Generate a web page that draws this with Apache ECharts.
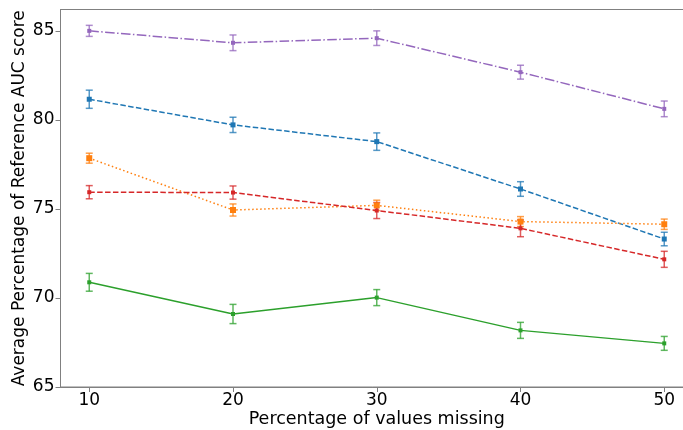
<!DOCTYPE html>
<html><head><meta charset="utf-8">
<script src="https://cdn.jsdelivr.net/npm/echarts@6/dist/echarts.min.js"></script>
<style>html,body{margin:0;padding:0;background:#fff}#c{width:683px;height:430px}</style>
</head><body><div id="c"></div>
<script>
const xs = [10, 20, 30, 40, 50];
const xTicks = [10, 20, 30, 40, 50];
const yTicks = [65, 70, 75, 80, 85];
const blueVals = [81.16, 79.72, 78.78, 76.12, 73.31];
const blueErr = [0.51, 0.43, 0.49, 0.41, 0.38];
const orangeVals = [77.85, 74.94, 75.20, 74.29, 74.14];
const orangeErr = [0.28, 0.34, 0.29, 0.28, 0.29];
const greenVals = [70.88, 69.10, 70.02, 68.18, 67.45];
const greenErr = [0.50, 0.54, 0.45, 0.45, 0.39];
const redVals = [75.94, 75.92, 74.91, 73.91, 72.17];
const redErr = [0.37, 0.37, 0.45, 0.47, 0.45];
const purpleVals = [85.00, 84.33, 84.59, 82.68, 80.62];
const purpleErr = [0.31, 0.44, 0.41, 0.39, 0.44];

const FONT = 'DejaVu Sans';
const specs = [
  {vals: blueVals, err: blueErr, color: '#1f77b4', dash: [5.5, 2.4], size: 5},
  {vals: orangeVals, err: orangeErr, color: '#ff7f0e', dash: [1.5, 2.5], size: 6},
  {vals: greenVals, err: greenErr, color: '#2ca02c', dash: 'solid', size: 4},
  {vals: redVals, err: redErr, color: '#d62728', dash: [5.5, 2.4], size: 4},
  {vals: purpleVals, err: purpleErr, color: '#9467bd', dash: [9.6, 2.4, 1.5, 2.4], size: 4}
];

const series = [];
specs.forEach(s => {
  series.push({
    type: 'custom',
    data: xs.map((x, i) => [x, s.vals[i], s.err[i]]),
    encode: {x: 0, y: 1},
    z: 2,
    silent: true,
    renderItem: function (params, api) {
      const x = api.value(0), y = api.value(1), e = api.value(2);
      const lo = api.coord([x, y - e]);
      const hi = api.coord([x, y + e]);
      const cw = 3.5;
      const st = {stroke: s.color, lineWidth: 1.5, opacity: 0.75};
      return {type: 'group', children: [
        {type: 'line', shape: {x1: lo[0], y1: lo[1], x2: hi[0], y2: hi[1]}, style: st},
        {type: 'line', shape: {x1: lo[0] - cw, y1: lo[1], x2: lo[0] + cw, y2: lo[1]}, style: st},
        {type: 'line', shape: {x1: hi[0] - cw, y1: hi[1], x2: hi[0] + cw, y2: hi[1]}, style: st}
      ]};
    }
  });
  series.push({
    type: 'line',
    data: xs.map((x, i) => [x, s.vals[i]]),
    z: 3,
    symbol: 'rect',
    symbolSize: s.size,
    showSymbol: true,
    itemStyle: {color: s.color},
    lineStyle: {color: s.color, width: 1.5, type: s.dash},
    animation: false
  });
});

const chart = echarts.init(document.getElementById('c'), null, {renderer: 'canvas'});
chart.setOption({
  animation: false,
  backgroundColor: '#ffffff',
  grid: {left: 60.5, top: 9.5, right: -10, bottom: 43, containLabel: false, outerBoundsMode: 'none',
         show: true, borderColor: '#808080', borderWidth: 1, backgroundColor: 'transparent'},
  xAxis: {
    type: 'value', min: 8, max: 52,
    name: 'Percentage of values missing', nameLocation: 'middle', nameGap: 23, nameMoveOverlap: false,
    nameTextStyle: {fontFamily: FONT, fontSize: 17.5, color: '#000'},
    axisLine: {show: true, lineStyle: {color: '#808080', width: 1}},
    axisTick: {show: true, length: 5, inside: false, customValues: xTicks, lineStyle: {color: '#808080'}},
    axisLabel: {customValues: xTicks, fontFamily: FONT, fontSize: 17, color: '#000', margin: 5},
    splitLine: {show: false}
  },
  yAxis: {
    type: 'value', min: 65, max: 86.2,
    name: 'Average Percentage of Reference AUC score', nameLocation: 'middle', nameGap: 32, nameMoveOverlap: false,
    nameTextStyle: {fontFamily: FONT, fontSize: 17, color: '#000'},
    axisLine: {show: true, lineStyle: {color: '#808080', width: 1}},
    axisTick: {show: true, length: 5, inside: false, customValues: yTicks, lineStyle: {color: '#808080'}},
    axisLabel: {customValues: yTicks, fontFamily: FONT, fontSize: 17, color: '#000', margin: 6},
    splitLine: {show: false}
  },
  series: series
});
</script>
</body></html>
